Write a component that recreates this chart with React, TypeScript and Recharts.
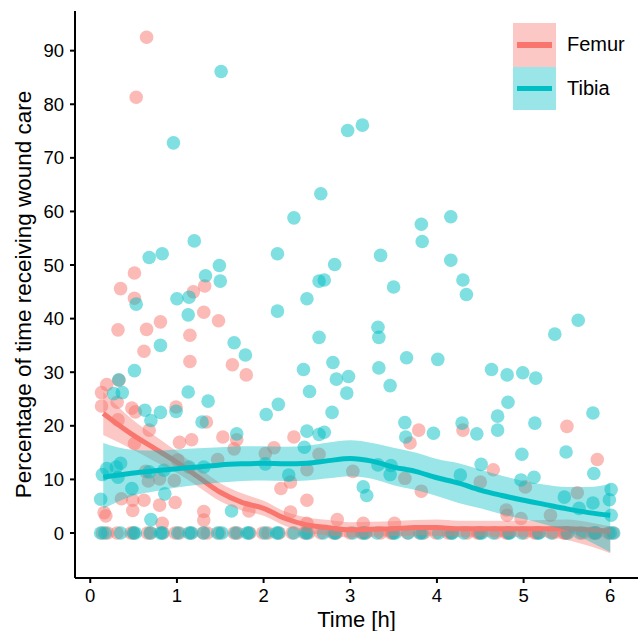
import React from "react";
import {
  ComposedChart, Scatter, Line, Area, XAxis, YAxis, Legend, Label
} from "recharts";

// scatter points: [time h, % wound care]
const femurPoints: [number, number][] = [
  [0.65, 92.5], [0.53, 81.3], [0.51, 48.5], [0.35, 45.6], [1.32, 46.1], [1.19, 45.0], [0.51, 43.8],
  [1.31, 41.2], [1.48, 39.6], [0.32, 37.9], [0.65, 38.0], [0.81, 39.4], [1.15, 36.9], [0.62, 33.9],
  [1.15, 32.0], [1.64, 31.4], [1.80, 29.5], [0.33, 28.5], [0.19, 27.7], [0.13, 26.2], [0.31, 24.4],
  [0.13, 23.7], [0.99, 23.5], [0.48, 23.3], [0.52, 22.6], [0.32, 21.1], [0.68, 19.2], [1.34, 20.7],
  [1.53, 17.9], [1.69, 17.4], [1.03, 16.9], [1.17, 17.4], [1.66, 15.7], [0.51, 16.7], [0.64, 11.5],
  [1.01, 13.6], [0.97, 9.8], [0.67, 9.7], [1.47, 13.7], [2.02, 14.8], [0.36, 6.4], [0.83, 1.8],
  [1.83, 4.1], [0.80, 10.1], [0.49, 6.1], [0.49, 4.2], [0.62, 6.1], [0.80, 5.2], [0.98, 5.7],
  [0.16, 3.8], [0.18, 3.2], [1.31, 4.0], [1.31, 2.4],
  [2.35, 17.9], [2.12, 15.9], [3.79, 19.2], [3.69, 16.8], [2.64, 14.7], [2.50, 11.8], [3.03, 11.5],
  [3.63, 10.2], [2.20, 8.3], [2.31, 9.5], [2.50, 6.1], [3.82, 7.8], [2.31, 3.9], [2.85, 2.5],
  [3.15, 1.8], [3.51, 1.8], [2.50, 1.8],
  [4.30, 19.2], [5.50, 19.9], [5.85, 13.7], [4.65, 11.8], [4.50, 9.5], [5.02, 8.6], [5.62, 7.5],
  [4.80, 4.3], [4.81, 3.3], [4.97, 2.7], [5.31, 3.3],
];

const femurZeros: number[] = [
  0.14, 0.31, 0.5, 0.66, 0.84, 0.98, 1.16, 1.35, 1.49, 1.66, 1.84, 1.99, 2.18, 2.33, 2.52, 2.66,
  2.84, 3.0, 3.18, 3.35, 3.49, 3.66, 3.85, 3.99, 4.16, 4.35, 4.49, 4.68, 4.82, 5.01, 5.15, 5.34,
  5.48, 5.68, 5.84, 6.03, 0.2, 0.47, 0.7, 1.03, 1.3, 1.7, 2.05, 2.47, 2.8, 3.13, 3.47, 3.8, 4.13,
  4.47, 4.8, 5.13, 5.47, 5.8, 5.98,
];

const tibiaPoints: [number, number][] = [
  [1.51, 86.1], [0.96, 72.8], [1.20, 54.5], [0.83, 52.1], [0.68, 51.4], [2.16, 52.1], [1.49, 49.9],
  [1.33, 48.0], [1.50, 47.0], [1.00, 43.7], [1.14, 44.0], [0.53, 42.7], [1.13, 40.7], [1.66, 35.5],
  [0.81, 35.0], [1.79, 33.2], [0.51, 30.3], [2.16, 41.4], [0.33, 28.6], [0.27, 26.0], [0.37, 26.2],
  [1.13, 26.3], [1.36, 24.6], [0.99, 22.7], [0.63, 22.9], [0.81, 22.5], [0.70, 21.0], [1.29, 20.7],
  [2.03, 22.1], [1.69, 18.5],
  [0.35, 13.0], [0.19, 12.0], [0.14, 10.9], [0.32, 10.4], [0.30, 12.3], [0.68, 11.4], [0.85, 11.7],
  [2.02, 12.9], [0.48, 8.3], [0.86, 7.3], [0.12, 6.3], [1.63, 4.1], [0.70, 2.5], [1.31, 12.3], [1.14, 12.3],
  [2.97, 75.1], [3.14, 76.1], [2.66, 63.3], [2.35, 58.8], [2.82, 50.1], [2.64, 47.0], [2.70, 47.2],
  [3.35, 51.8], [3.50, 45.9], [3.82, 57.6], [3.83, 54.4], [4.16, 59.0], [4.16, 50.9], [4.30, 47.2],
  [4.34, 44.5], [2.50, 43.7], [3.32, 38.4], [3.33, 36.5], [2.64, 36.5], [3.65, 32.7], [4.01, 32.4],
  [2.46, 30.5], [2.80, 31.8], [2.84, 28.7], [2.98, 29.2], [3.33, 30.8], [2.53, 26.4], [2.96, 26.1],
  [3.46, 27.5], [2.17, 24.0], [2.79, 22.5], [3.63, 20.6], [2.50, 19.0], [2.64, 18.4], [2.70, 18.8],
  [2.47, 16.0], [3.64, 17.9], [3.96, 18.6],
  [2.29, 10.8], [3.32, 12.7], [3.46, 10.9], [3.47, 12.6], [3.15, 8.6], [3.19, 7.0], [4.27, 10.8],
  [5.63, 39.7], [5.36, 37.1], [4.63, 30.5], [4.81, 29.5], [4.99, 29.9], [5.14, 28.9], [4.82, 24.4],
  [4.70, 21.8], [4.29, 20.5], [4.46, 18.5], [4.70, 19.2], [5.13, 20.5], [5.80, 22.4], [4.98, 14.7],
  [5.49, 15.1], [4.51, 12.8], [5.81, 11.1], [5.12, 10.4], [4.97, 9.9], [5.47, 6.7], [5.64, 4.6],
  [5.80, 5.6], [6.01, 8.1], [5.99, 6.2], [6.01, 3.3],
];

const tibiaZeros: number[] = [
  0.17, 0.35, 0.52, 0.69, 0.81, 1.01, 1.17, 1.31, 1.52, 1.68, 1.81, 2.02, 2.15, 2.35, 2.49, 2.69,
  2.82, 3.03, 3.15, 3.31, 3.52, 3.67, 3.81, 4.02, 4.18, 4.31, 4.52, 4.65, 4.84, 4.98, 5.18, 5.32,
  5.51, 5.65, 5.82, 6.0, 0.12, 0.5, 0.83, 1.14, 1.47, 1.83, 2.17, 2.5, 2.83, 3.17, 3.5, 3.83, 4.17,
  4.5, 4.83, 5.17, 5.5, 5.83, 6.04,
];

// smoothed trend + confidence band, read at these times
const smoothX = [0.15, 0.5, 0.75, 1.0, 1.25, 1.5, 1.75, 2.0, 2.25, 2.5, 2.75, 3.0, 3.25, 3.5, 3.75, 4.0, 4.25, 4.5, 4.75, 5.0, 5.25, 5.5, 5.75, 6.0];
const femurFit = [22.3, 18.2, 15.7, 13.2, 10.4, 7.6, 5.7, 4.6, 2.7, 1.5, 1.0, 0.6, 0.7, 0.8, 1.0, 1.0, 0.8, 0.8, 0.8, 0.8, 0.8, 0.8, 0.6, 0.3];
const femurLo = [18.3, 15.5, 13.3, 11.2, 8.6, 5.9, 4.2, 3.2, 1.3, 0.1, -0.4, -0.8, -0.7, -0.6, -0.4, -0.5, -0.7, -0.7, -0.7, -0.7, -0.8, -1.3, -2.4, -3.8];
const femurHi = [26.3, 21.0, 18.1, 15.2, 12.2, 9.3, 7.4, 6.0, 4.0, 2.9, 2.4, 2.0, 2.1, 2.2, 2.4, 2.5, 2.3, 2.3, 2.3, 2.3, 2.4, 2.5, 2.0, 1.2];
const tibiaFit = [10.4, 11.2, 11.6, 12.0, 12.3, 12.7, 12.9, 13.0, 12.9, 13.0, 13.5, 13.9, 13.4, 12.3, 11.5, 10.3, 9.3, 8.0, 7.0, 6.1, 5.3, 4.5, 3.8, 3.3];
const tibiaLo = [4.5, 7.0, 7.8, 8.5, 9.0, 9.4, 9.7, 9.8, 9.7, 9.8, 10.2, 10.6, 10.1, 8.9, 8.0, 6.9, 5.6, 4.6, 3.5, 2.6, 1.6, 0.4, -1.5, -3.6];
const tibiaHi = [16.8, 15.5, 15.4, 15.6, 15.8, 16.0, 16.2, 16.2, 16.1, 16.3, 16.9, 17.3, 16.8, 15.9, 15.0, 13.8, 13.0, 11.8, 10.7, 9.7, 9.0, 8.6, 8.6, 9.2];

const xTicks = [0, 1, 2, 3, 4, 5, 6];
const yTicks = [0, 10, 20, 30, 40, 50, 60, 70, 80, 90];

const FEMUR = "#F8766D";
const TIBIA = "#00BFC4";

const femurData = [...femurPoints.map(([x, y]) => ({ x, y })), ...femurZeros.map((x) => ({ x, y: 0 }))];
const tibiaData = [...tibiaPoints.map(([x, y]) => ({ x, y })), ...tibiaZeros.map((x) => ({ x, y: 0 }))];

const smoothData = (fit: number[], lo: number[], hi: number[]) =>
  smoothX.map((x, i) => ({ x, fit: fit[i], band: [lo[i], hi[i]] }));

const femurSmooth = smoothData(femurFit, femurLo, femurHi);
const tibiaSmooth = smoothData(tibiaFit, tibiaLo, tibiaHi);

const dot = (color: string) => (props: any) => (
  <circle cx={props.cx} cy={props.cy} r={6.8} fill={color} fillOpacity={0.5} />
);

const legendItems = [
  { name: "Femur", color: FEMUR, band: "#FCC8C5" },
  { name: "Tibia", color: TIBIA, band: "#99E5E7" },
];

const LegendBox = () => (
  <div style={{ position: "relative", width: 125, height: 87, fontSize: 20, color: "#000" }}>
    {legendItems.map((it, i) => (
      <div key={it.name} style={{ position: "absolute", left: 0, top: i * 43.5, width: 125, height: 43.5 }}>
        <div style={{ position: "absolute", left: 0, top: 0, width: 43, height: 43.5, background: it.band }} />
        <div style={{ position: "absolute", left: 4, top: 19, width: 35, height: 5.5, background: it.color }} />
        <div style={{ position: "absolute", left: 54, top: 0, lineHeight: "43.5px" }}>{it.name}</div>
      </div>
    ))}
  </div>
);

const axisText = { fill: "#000", fontSize: 18.5 };

export default function App() {
  return (
    <div style={{ position: "absolute", left: 0, top: 0, fontFamily: "'Liberation Sans', Arial, sans-serif" }}>
      <ComposedChart width={640} height={631} margin={{ top: 11, right: 2, bottom: 0, left: 0 }}>
        <XAxis
          dataKey="x" type="number" domain={[-0.176, 6.32]} ticks={xTicks} allowDataOverflow
          height={53} tickSize={5} tickMargin={6} tick={axisText}
          axisLine={{ stroke: "#000", strokeWidth: 2 }} tickLine={{ stroke: "#000", strokeWidth: 2 }}
        >
          <Label
            content={(p: any) => (
              <text x={p.viewBox.x + p.viewBox.width / 2} y={p.viewBox.y + 49} textAnchor="middle" fontSize={22} fill="#000">
                Time [h]
              </text>
            )}
          />
        </XAxis>
        <YAxis
          dataKey="y" type="number" domain={[-8.4, 97.4]} ticks={yTicks} allowDataOverflow
          width={75} tickSize={5} tickMargin={6} tick={axisText}
          axisLine={{ stroke: "#000", strokeWidth: 2 }} tickLine={{ stroke: "#000", strokeWidth: 2 }}
        >
          <Label
            content={(p: any) => {
              const x = p.viewBox.x + 31;
              const y = p.viewBox.y + p.viewBox.height / 2;
              return (
                <text x={x} y={y} transform={`rotate(-90, ${x}, ${y})`} textAnchor="middle" fontSize={22.5} fill="#000">
                  Percentage of time receiving wound care
                </text>
              );
            }}
          />
        </YAxis>
        {/* top and right frame of the panel */}
        <XAxis xAxisId="top" orientation="top" type="number" domain={[-0.176, 6.32]} height={0}
          tick={false} tickLine={false} axisLine={{ stroke: "#333", strokeWidth: 1.3 }} />
        <YAxis yAxisId="right" orientation="right" type="number" domain={[-8.4, 97.4]} width={0}
          tick={false} tickLine={false} axisLine={{ stroke: "#333", strokeWidth: 1.3 }} />

        <Scatter name="Femur" data={femurData} shape={dot(FEMUR)} isAnimationActive={false} zIndex={60} legendType="none" />
        <Scatter name="Tibia" data={tibiaData} shape={dot(TIBIA)} isAnimationActive={false} zIndex={61} legendType="none" />

        <Area data={femurSmooth} dataKey="band" type="monotone" stroke="none" fill={FEMUR} fillOpacity={0.4}
          isAnimationActive={false} zIndex={100} legendType="none" />
        <Line data={femurSmooth} dataKey="fit" type="monotone" stroke={FEMUR} strokeWidth={5} dot={false}
          isAnimationActive={false} zIndex={101} legendType="none" />
        <Area data={tibiaSmooth} dataKey="band" type="monotone" stroke="none" fill={TIBIA} fillOpacity={0.4}
          isAnimationActive={false} zIndex={102} legendType="none" />
        <Line data={tibiaSmooth} dataKey="fit" type="monotone" stroke={TIBIA} strokeWidth={5} dot={false}
          isAnimationActive={false} zIndex={103} legendType="none" />

        <Legend layout="vertical" align="center" verticalAlign="middle" content={<LegendBox />}
          wrapperStyle={{ left: 513, top: 23, width: 125, height: 87 }} />
      </ComposedChart>
    </div>
  );
}
